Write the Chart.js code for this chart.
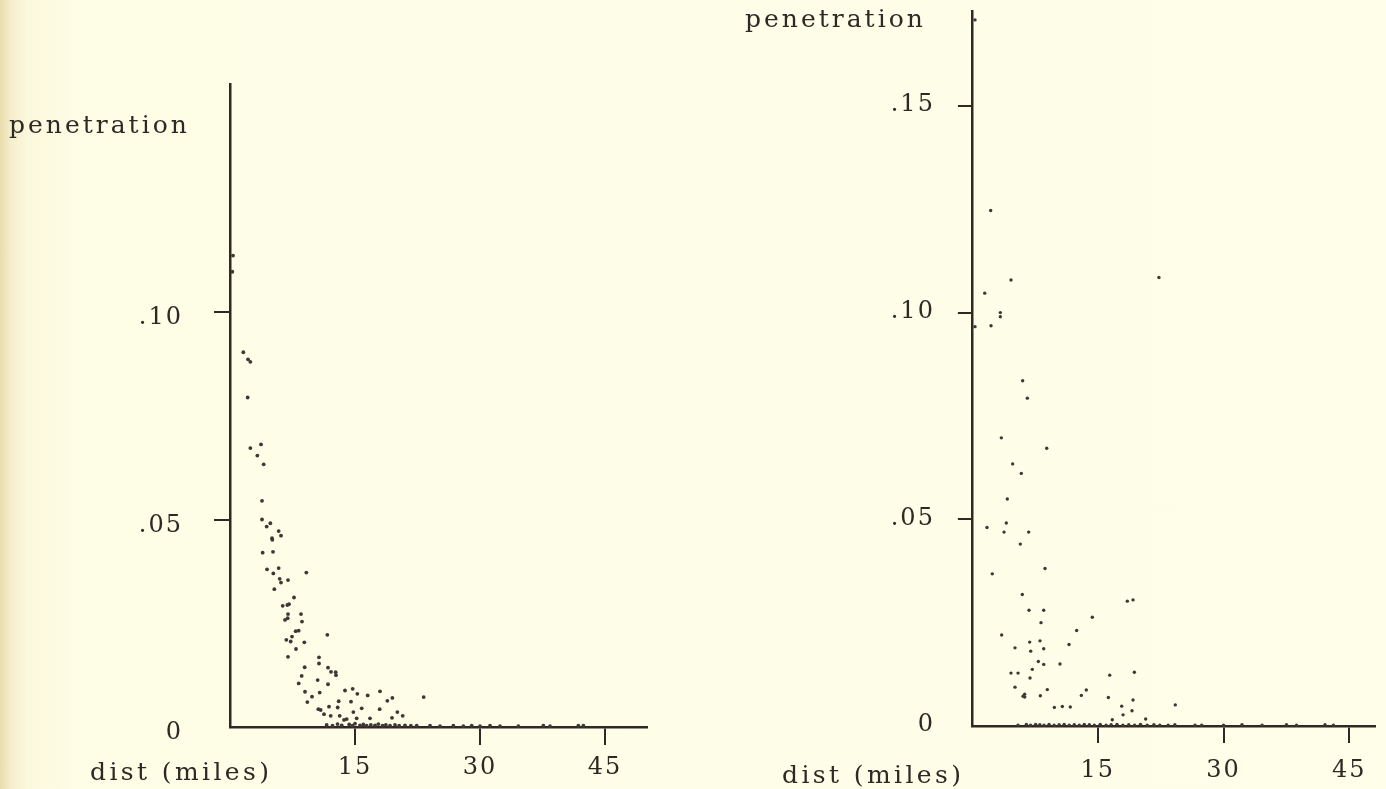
<!DOCTYPE html>
<html>
<head>
<meta charset="utf-8">
<script src="https://cdn.jsdelivr.net/npm/chart.js@4.4.1/dist/chart.umd.min.js"></script>
<style>
  html, body { margin: 0; padding: 0; }
  body {
    width: 1386px; height: 789px; overflow: hidden; position: relative;
    background: linear-gradient(to right, #e9dcad 0px, #f5eecb 10px, #fbf8dd 28px, #fefde6 80px, #fffee9 100%);
  }
  canvas { position: absolute; top: 0; }
  #leftChart { left: 0; }
  #rightChart { left: 693px; }
</style>
</head>
<body>
<canvas id="leftChart" width="693" height="789"></canvas>
<canvas id="rightChart" width="693" height="789"></canvas>
<script>
// left panel: distance (miles) and penetration
const leftDist = [0.36,0.28,1.60,2.16,2.44,2.12,3.72,2.44,3.28,4.04,
  3.84,3.84,4.40,4.84,5.04,5.08,5.84,6.12,3.92,5.16,
  4.44,5.20,5.84,5.96,6.12,6.96,9.16,5.32,7.68,6.32,
  6.88,7.08,8.52,6.96,6.92,6.60,8.64,7.88,8.24,11.68,
  7.44,7.28,6.76,8.92,7.92,6.96,10.68,10.68,8.96,11.76,
  12.12,12.68,12.72,8.60,10.52,8.24,11.76,9.00,10.76,9.84,
  9.28,13.80,14.72,15.28,16.52,18.00,14.52,13.04,12.92,11.88,
  10.60,10.88,11.28,14.80,15.80,17.96,18.88,19.48,20.08,20.72,
  19.44,23.24,12.08,13.16,13.68,14.00,15.20,16.80,
  11.6,12.3,12.9,13.4,14.3,14.7,15.0,15.6,16.0,16.4,16.9,17.4,17.8,18.3,18.7,19.2,19.8,20.3,21.0,21.7,22.4,
  24.0,25.2,26.8,28.0,29.0,30.0,31.2,32.4,34.6,37.6,38.4,41.8,42.4];
const leftPen = [0.1136,0.1097,0.0903,0.0886,0.0880,0.0794,0.0681,0.0672,0.0654,0.0633,
  0.0545,0.0500,0.0483,0.0491,0.0455,0.0451,0.0472,0.0461,0.0420,0.0422,
  0.0380,0.0370,0.0383,0.0357,0.0348,0.0354,0.0372,0.0332,0.0312,0.0292,
  0.0294,0.0296,0.0272,0.0272,0.0262,0.0258,0.0254,0.0231,0.0232,0.0222,
  0.0218,0.0206,0.0210,0.0204,0.0188,0.0169,0.0168,0.0153,0.0144,0.0143,
  0.0133,0.0132,0.0125,0.0123,0.0113,0.0105,0.0103,0.0085,0.0083,0.0073,
  0.0060,0.0088,0.0092,0.0080,0.0076,0.0086,0.0061,0.0062,0.0047,0.0049,
  0.0043,0.0041,0.0031,0.0036,0.0045,0.0043,0.0063,0.0070,0.0036,0.0027,
  0.0022,0.0072,0.0027,0.0027,0.0017,0.0019,0.0021,0.0021,
  0.0005,0.0003,0.0007,0.0004,0.0006,0.0003,0.0008,0.0004,0.0006,0.0003,0.0005,0.0004,0.0007,0.0003,0.0005,0.0003,0.0005,0.0003,0.0004,0.0003,0.0003,
  0.0003,0.0002,0.0003,0.0002,0.0003,0.0002,0.0003,0.0002,0.0002,0.0003,0.0002,0.0003,0.0003];

// right panel
const rightDist = [0.37,2.24,4.66,1.53,3.39,3.39,0.37,2.28,22.3,6.05,6.61,3.51,
  8.92,4.86,5.89,4.22,4.10,1.80,3.83,6.77,5.77,8.72,
  2.43,6.01,18.53,19.21,6.81,8.56,8.24,14.36,3.55,12.49,
  5.14,6.89,8.12,7.01,8.56,11.58,7.92,8.56,7.20,10.5,
  4.66,5.50,6.93,19.37,16.43,5.14,8.99,6.29,6.1,6.3,
  8.16,13.64,13.05,16.27,19.21,9.83,10.78,11.73,17.86,24.25,
  19.09,18.02,16.74,20.72,
  5.5,6.5,7.0,7.6,8.1,8.6,9.2,9.8,10.4,11.0,11.6,12.2,12.8,13.4,14.0,14.6,15.3,16.0,16.6,17.3,
  18.0,18.7,19.4,20.1,20.9,21.7,22.4,23.4,24.2,26.6,27.4,30.0,32.2,34.6,37.5,38.7,42.1,43.1];
const rightPen = [0.1708,0.1247,0.1079,0.1047,0.1000,0.0990,0.0966,0.0968,0.1085,0.0835,0.0793,0.0697,
  0.0672,0.0634,0.0611,0.0549,0.0491,0.0480,0.0469,0.0469,0.0440,0.0381,
  0.0368,0.0318,0.0302,0.0305,0.0280,0.0280,0.0250,0.0263,0.0220,0.0231,
  0.0189,0.0203,0.0206,0.0181,0.0187,0.0197,0.0156,0.0149,0.0137,0.0150,
  0.0128,0.0128,0.0116,0.0130,0.0123,0.0094,0.0088,0.0077,0.0072,0.0070,
  0.0073,0.0087,0.0074,0.0069,0.0063,0.0045,0.0047,0.0046,0.0048,0.0051,
  0.0037,0.0027,0.0015,0.0017,
  0.0002,0.0004,0.0002,0.0004,0.0003,0.0002,0.0004,0.0002,0.0003,0.0004,0.0002,0.0003,0.0002,0.0004,0.0003,0.0002,0.0004,0.0002,0.0003,0.0004,
  0.0002,0.0003,0.0002,0.0004,0.0002,0.0003,0.0002,0.0002,0.0003,0.0002,0.0002,0.0002,0.0003,0.0002,0.0003,0.0002,0.0003,0.0002];

const xTickValues = [15, 30, 45];
const leftYTicks = [0, 0.05, 0.10];
const rightYTicks = [0, 0.05, 0.10, 0.15];
const yTitle = 'penetration';
const xTitle = 'dist (miles)';

const ink = '#2f2925';
const dotColor = '#3f3636';
const serif = '"DejaVu Serif", serif';

// typewriter-ish spacing for the tick numbers
const spacing = {
  id: 'spacing',
  beforeDraw(chart) { chart.ctx.letterSpacing = '2px'; }
};

// the two axis captions sit outside the usual title spots
const panelText = {
  id: 'panelText',
  afterDraw(chart, args, o) {
    const ctx = chart.ctx;
    ctx.save();
    ctx.fillStyle = ink;
    ctx.textAlign = 'left';
    ctx.textBaseline = 'alphabetic';
    ctx.font = '25px ' + serif;
    ctx.letterSpacing = '3px';
    ctx.fillText(yTitle, o.yTitleX, o.yTitleY);
    ctx.letterSpacing = '3.4px';
    ctx.fillText(xTitle, o.xTitleX, o.xTitleY);
    ctx.restore();
  }
};

function fmtY(v) {
  return v === 0 ? '0' : '.' + v.toFixed(2).split('.')[1];
}

function makePanel(id, dist, pen, yTicks, g) {
  const pts = dist.map((d, i) => ({ x: d, y: pen[i] }));
  new Chart(document.getElementById(id), {
    type: 'scatter',
    data: {
      datasets: [{
        data: pts,
        pointRadius: g.dot,
        pointHoverRadius: g.dot,
        pointBackgroundColor: dotColor,
        pointBorderWidth: 0,
        clip: false
      }]
    },
    options: {
      responsive: false,
      animation: false,
      events: [],
      layout: { padding: { left: 0, top: g.top, right: g.right, bottom: 0 } },
      plugins: {
        legend: { display: false },
        tooltip: { enabled: false },
        panelText: g.text
      },
      scales: {
        x: {
          type: 'linear',
          min: 0,
          max: g.xMax,
          afterBuildTicks: axis => { axis.ticks = xTickValues.map(v => ({ value: v })); },
          afterFit: s => { s.height = g.xAxisH; s.paddingLeft = 0; s.paddingRight = 0; },
          border: { display: true, color: ink, width: 2.5 },
          grid: { drawOnChartArea: false, drawTicks: true, tickLength: g.xTick, color: ink, lineWidth: 2 },
          ticks: { color: ink, padding: g.xPad, maxRotation: 0, font: { family: serif, size: 24 } }
        },
        y: {
          type: 'linear',
          min: 0,
          max: g.yMax,
          afterBuildTicks: axis => { axis.ticks = yTicks.map(v => ({ value: v })); },
          afterFit: s => { s.width = g.yAxisW; s.paddingTop = 0; s.paddingBottom = 0; },
          border: { display: true, color: ink, width: 2.5 },
          grid: {
            drawOnChartArea: false, drawTicks: true, tickLength: g.yTick, lineWidth: 2,
            tickColor: c => (c.tick && c.tick.value === 0) ? 'rgba(0,0,0,0)' : ink
          },
          ticks: {
            color: ink, padding: g.yPad, labelOffset: g.yOff,
            font: { family: serif, size: 24 },
            callback: v => fmtY(v)
          }
        }
      }
    },
    plugins: [spacing, panelText]
  });
}

makePanel('leftChart', leftDist, leftPen, leftYTicks, {
  dot: 1.9, top: 83.75, right: 46.3, xAxisH: 62, yAxisW: 230,
  xMax: 50, yMax: 0.155, xTick: 18, xPad: 8, yTick: 16, yPad: 31, yOff: 6,
  text: { yTitleX: 9, yTitleY: 133, xTitleX: 90, xTitleY: 780 }
});

makePanel('rightChart', rightDist, rightPen, rightYTicks, {
  dot: 1.7, top: 10.8, right: 11.5, xAxisH: 63, yAxisW: 278.9,
  xMax: 48, yMax: 0.173, xTick: 17, xPad: 13, yTick: 14, yPad: 23, yOff: -1,
  text: { yTitleX: 52, yTitleY: 27, xTitleX: 89, xTitleY: 783 }
});
</script>
</body>
</html>
